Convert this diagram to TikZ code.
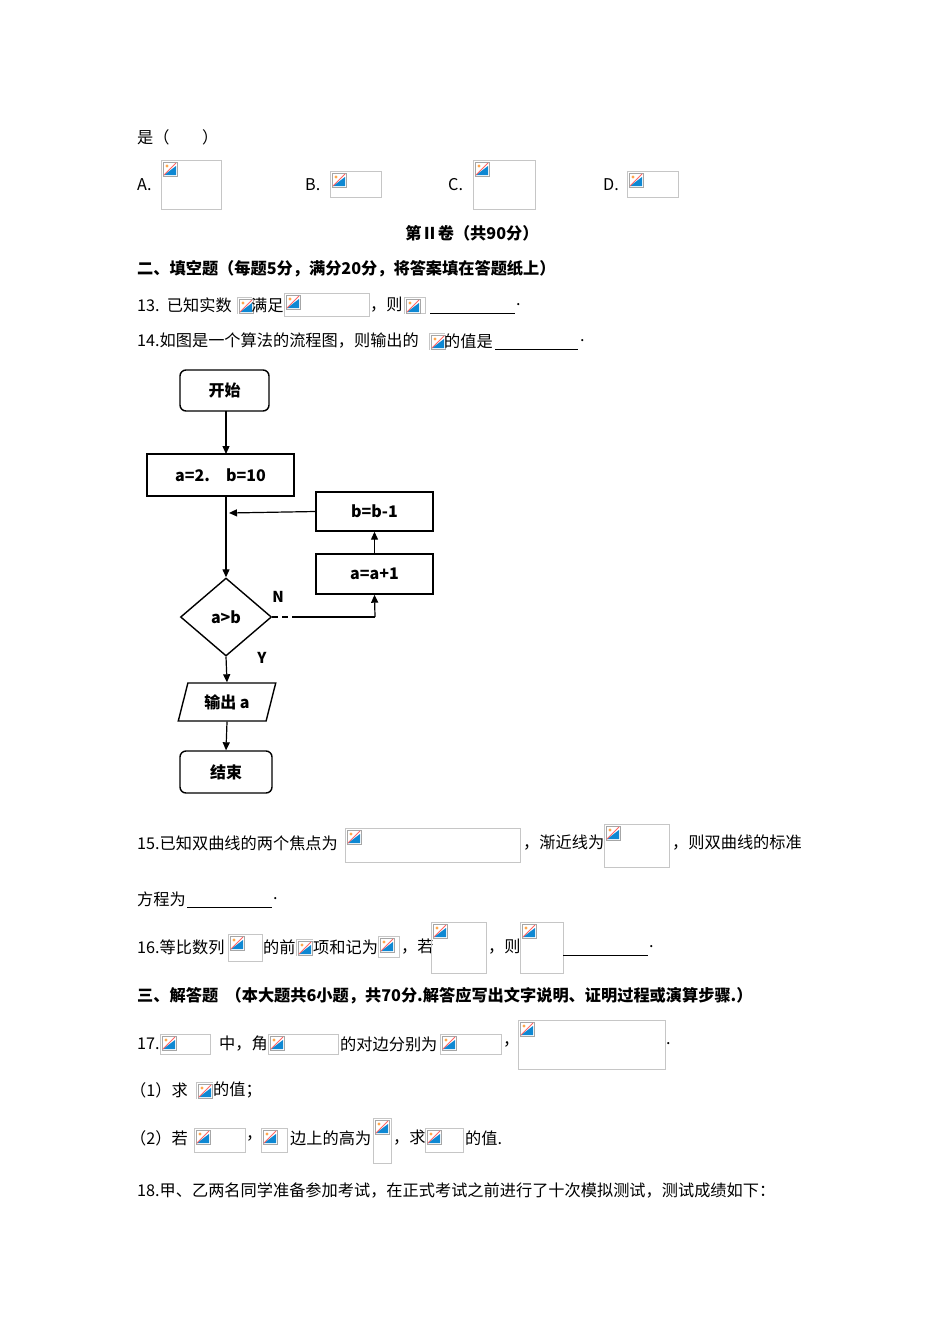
\documentclass[tikz,border=0pt]{standalone}
\usepackage{fontspec}
\setmainfont{Noto Sans CJK SC}
\usetikzlibrary{shapes.geometric,arrows.meta}
\newcommand{\ph}[4]{%
  \draw[gray!45,line width=0.8pt] (#1,#2) rectangle (#3,#4);
  \fill[white] (#1+1,#2+1) rectangle (#1+17,#2+17);
  \draw[gray!70,line width=0.7pt] (#1+2,#2+2) rectangle (#1+16,#2+16);
  \fill[cyan!70!blue] (#1+3,#2+15) -- (#1+15,#2+15) -- (#1+15,#2+6) -- cycle;
  \fill[orange!70] (#1+6,#2+6) circle (1.6);
  \draw[red!60,line width=0.8pt] (#1+3,#2+15) -- (#1+15,#2+3);}
\tikzset{
  t/.style={anchor=west,inner sep=0pt,font=\fontsize{16.2}{18}\selectfont},
  tb/.style={t,font=\fontsize{16.2}{18}\selectfont\bfseries},
  fc/.style={draw,line width=1.4pt,font=\fontsize{16}{18}\selectfont\bfseries,inner sep=0pt},
  arr/.style={line width=1.2pt,-{Triangle[length=8pt,width=7pt]}},
  ul/.style={line width=0.8pt}
}
\begin{document}
\begin{tikzpicture}[x=1pt,y=-1pt]
\useasboundingbox (0,0) rectangle (950,1344);
\fill[white] (0,0) rectangle (950,1344);
% top
\node[t] (q0) at (137,137) {是（　　）};
\node[t] (oa) at (137,185) {A.}; \ph{161}{160}{221}{209}
\node[t] (ob) at (305,185) {B.}; \ph{330}{171}{381}{197}
\node[t] (oc) at (448,185) {C.}; \ph{473}{160}{535}{209}
\node[t] (od) at (603,185) {D.}; \ph{627}{171}{678}{197}
\node[tb,anchor=center] (h2) at (472,233) {第Ⅱ卷（共90分）};
\node[tb] (s2) at (137,269) {二、填空题（每题5分，满分20分，将答案填在答题纸上）};
% 13
\node[t] (p13) at (137,305) {13.\ \ 已知实数}; \ph{237}{297}{251}{313}
\node[t] at (251,305) {满足}; \ph{284}{293}{369}{316}
\node[t] at (370,305) {，则}; \ph{404}{297}{425}{313}
\draw[ul] (430,313) -- (515,313); \node[t] at (516,305) {.};
% 14
\node[t] (p14) at (137,341) {14.如图是一个算法的流程图，则输出的}; \ph{429}{333}{444}{349}
\node[t] at (444,341) {的值是}; \draw[ul] (495,349) -- (578,349); \node[t] at (580,341) {.};
% flowchart
\node[fc,rounded corners=6pt,minimum width=89pt,minimum height=41pt] (start) at (224.5,390.5) {开始};
\node[fc,minimum width=147pt,minimum height=42pt] (init) at (220.5,475) {a=2.\quad b=10};
\node[fc,minimum width=117pt,minimum height=39pt] (bb) at (374.5,511.5) {b=b-1};
\node[fc,minimum width=117pt,minimum height=40pt] (aa) at (374.5,574) {a=a+1};
\node[fc,diamond,minimum width=91pt,minimum height=78pt] (cond) at (226,617) {a>b};
\node[fc,trapezium,trapezium left angle=70,trapezium right angle=110,minimum width=98pt,minimum height=38pt,trapezium stretches=true] (out) at (227,702) {输出 a};
\node[fc,rounded corners=6pt,minimum width=92pt,minimum height=42pt] (end) at (226,772) {结束};
\coordinate (j) at (226,513);
\coordinate (k) at (375,617);
\coordinate (s1) at (226,411);
\coordinate (s2b) at (226,454);
\coordinate (i1) at (226,496);
\draw[arr] (s1) -- (s2b);
\draw[line width=1.2pt] (i1) -- (j);
\draw[arr] (j) -- (cond.north);
\draw[arr] (bb.west) -- (229,513);
\draw[arr] (aa.north) -- (bb.south);
\draw[line width=1.2pt,dash pattern=on 6pt off 4pt on 6pt off 4pt on 300pt off 0pt] (cond.east) -- (k);
\draw[arr] (k) -- (aa.south);
\draw[arr] (cond.south) -- (out.north);
\draw[arr] (out.south) -- (end.north);
\node[font=\fontsize{15}{16}\selectfont\bfseries] (nl) at (278,597) {N};
\node[font=\fontsize{15}{16}\selectfont\bfseries] (yl) at (262,658) {Y};
% 15
\node[t] (p15) at (137,843) {15.已知双曲线的两个焦点为}; \ph{345}{828}{520}{862}
\node[t] at (523,843) {，渐近线为}; \ph{604}{824}{669}{867}
\node[t] at (672,843) {，则双曲线的标准};
\node[t] at (137,899) {方程为}; \draw[ul] (187,907) -- (272,907); \node[t] at (273,899) {.};
% 16
\node[t] (p16) at (137,947) {16.等比数列}; \ph{228}{934}{262}{961}
\node[t] at (263,947) {的前}; \ph{296}{939}{312}{955}
\node[t] at (313,947) {项和记为}; \ph{378}{936}{399}{957}
\node[t] at (401,947) {，若}; \ph{431}{922}{486}{973}
\node[t] at (488,947) {，则}; \ph{520}{922}{563}{973}
\draw[ul] (563,955) -- (648,955); \node[t] at (649,947) {.};
% 三
\node[tb] (s3) at (137,996) {三、解答题\ \ （本大题共6小题，共70分.解答应写出文字说明、证明过程或演算步骤.）};
% 17
\node[t] (p17) at (137,1044) {17.}; \ph{160}{1034}{210}{1054}
\node[t] at (219,1044) {中，角}; \ph{268}{1034}{338}{1054}
\node[t] at (340,1044) {的对边分别为}; \ph{440}{1034}{501}{1054}
\node[t] at (503,1044) {，}; \ph{518}{1020}{665}{1069}
\node[t] at (666,1044) {.};
\node[t] at (130,1090) {（1）求}; \ph{196}{1082}{212}{1098}
\node[t] at (213,1090) {的值；};
\node[t] at (130,1138) {（2）若}; \ph{194}{1128}{245}{1152}
\node[t] at (246,1138) {，}; \ph{261}{1128}{287}{1152}
\node[t] at (290,1138) {边上的高为}; \ph{373}{1118}{391}{1163}
\node[t] at (393,1138) {，求}; \ph{425}{1128}{463}{1152}
\node[t] at (465,1138) {的值.};
\node[t] (p18) at (137,1190) {18.甲、乙两名同学准备参加考试，在正式考试之前进行了十次模拟测试，测试成绩如下：};
\end{tikzpicture}
\end{document}
